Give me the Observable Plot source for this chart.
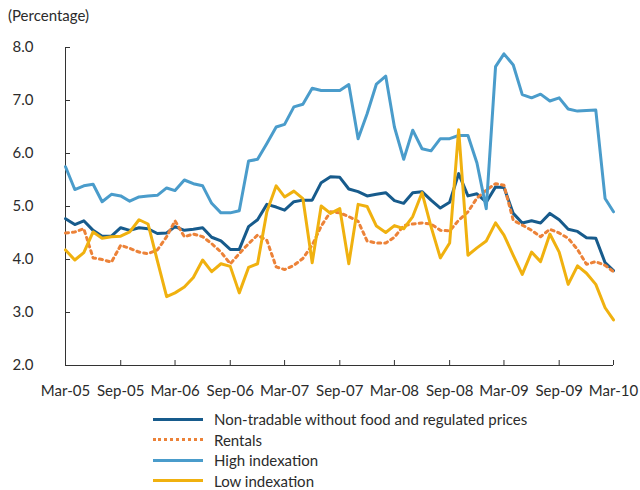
<!DOCTYPE html>
<html><head><meta charset="utf-8">
<script src="https://cdn.jsdelivr.net/npm/d3@7"></script>
<script src="https://cdn.jsdelivr.net/npm/@observablehq/plot@0.6"></script>
<style>
body{margin:0;background:#fff;font-family:Lato,"Open Sans",sans-serif;color:#2b2b2b;width:640px;height:490px;overflow:hidden}
#title{font-size:15px;line-height:20px;padding:5px 0 0 8px;height:20px}
#legend{position:relative;padding-top:4px;font-size:15px}
.row{height:20.5px;line-height:20.5px;display:flex;align-items:center;padding-left:153px}
.sw{width:50px;height:0;margin-right:11px}
</style></head>
<body>
<div id="title">(Percentage)</div>
<div id="chart"></div>
<div id="legend"></div>
<script>
const startYear = 2005, startMonth = 2; // March 2005
const nonTradable = [4.77,4.66,4.73,4.55,4.44,4.44,4.60,4.55,4.60,4.58,4.49,4.50,4.62,4.55,4.57,4.60,4.42,4.35,4.19,4.19,4.62,4.75,5.04,4.99,4.93,5.09,5.12,5.12,5.45,5.56,5.55,5.33,5.28,5.20,5.23,5.26,5.11,5.06,5.26,5.28,5.12,4.97,5.08,5.62,5.20,5.24,5.08,5.37,5.36,4.87,4.69,4.73,4.69,4.87,4.75,4.57,4.53,4.41,4.40,3.94,3.79];
const rentals = [4.50,4.52,4.58,4.03,4.00,3.95,4.27,4.21,4.14,4.11,4.18,4.43,4.73,4.43,4.48,4.43,4.30,4.14,3.92,4.11,4.30,4.46,4.36,3.86,3.81,3.89,4.02,4.27,4.63,4.90,4.88,4.81,4.72,4.35,4.31,4.31,4.42,4.64,4.67,4.69,4.67,4.55,4.54,4.74,4.90,5.16,5.31,5.43,5.40,4.74,4.65,4.55,4.43,4.57,4.50,4.40,4.19,3.91,3.96,3.89,3.77];
const highIndexation = [5.75,5.32,5.39,5.42,5.09,5.23,5.20,5.10,5.18,5.20,5.21,5.35,5.30,5.50,5.43,5.39,5.06,4.88,4.88,4.92,5.86,5.89,6.19,6.50,6.55,6.88,6.93,7.23,7.19,7.19,7.19,7.30,6.28,6.75,7.31,7.46,6.50,5.89,6.44,6.09,6.05,6.28,6.28,6.34,6.34,5.82,4.96,7.64,7.88,7.67,7.11,7.05,7.12,6.99,7.05,6.84,6.80,6.81,6.82,5.15,4.90];
const lowIndexation = [4.18,3.99,4.13,4.52,4.40,4.43,4.44,4.52,4.75,4.67,3.98,3.30,3.37,3.48,3.66,3.99,3.77,3.92,3.87,3.37,3.85,3.92,4.90,5.39,5.18,5.29,5.15,3.94,5.01,4.87,4.96,3.92,5.04,5.00,4.63,4.51,4.64,4.58,4.81,5.26,4.62,4.03,4.31,6.45,4.08,4.22,4.35,4.69,4.46,4.08,3.72,4.14,3.96,4.48,4.14,3.53,3.88,3.74,3.53,3.09,2.86];
const seriesNames = ["Non-tradable without food and regulated prices","Rentals","High indexation","Low indexation"];
const seriesValues = [nonTradable, rentals, highIndexation, lowIndexation];
const colors = ["#175b8c","#ec8238","#4a9ccb","#f0b10f"];
const dashes = [null,"3 4",null,null];
const yTicks = [2,3,4,5,6,7,8];

const months = nonTradable.map((_, i) => new Date(Date.UTC(startYear, startMonth + i, 1)));
const xTicks = months.filter((_, i) => i % 6 === 0);
const fmt = d3.utcFormat("%b-%y");

const marks = [];
seriesValues.forEach((vals, s) => {
  marks.push(Plot.line(vals.map((v, i) => ({date: months[i], value: v})), {
    x: "date", y: "value", stroke: colors[s], strokeWidth: 3,
    strokeDasharray: dashes[s] || undefined, strokeLinejoin: "round"
  }));
});

const chart = Plot.plot({
  width: 640, height: 380,
  marginLeft: 65, marginRight: 27, marginTop: 22, marginBottom: 40,
  style: {fontFamily: "Lato, 'Open Sans', sans-serif", fontSize: "15px", color: "#2b2b2b", background: "#fff"},
  x: {type: "utc", domain: [months[0], months[months.length - 1]]},
  y: {domain: [2, 8]},
  marks: [
    Plot.axisX({ticks: xTicks, tickFormat: fmt, tickSize: -5, tickPadding: 25, label: null, stroke: "#333"}),
    Plot.axisY({ticks: yTicks, tickFormat: d3.format(".1f"), tickSize: -5, tickPadding: 37, label: null, stroke: "#333"}),
    Plot.ruleX([months[0]], {stroke: "#333"}),
    Plot.ruleY([2], {stroke: "#333"}),
    ...marks
  ]
});
document.getElementById("chart").appendChild(chart);

const legend = document.getElementById("legend");
seriesNames.forEach((name, s) => {
  const row = document.createElement("div");
  row.className = "row";
  const sw = document.createElement("div");
  sw.className = "sw";
  sw.style.borderTop = dashes[s] ? `3px dotted ${colors[s]}` : `3px solid ${colors[s]}`;
  row.appendChild(sw);
  const t = document.createElement("span");
  t.textContent = name;
  row.appendChild(t);
  legend.appendChild(row);
});
</script>
</body></html>
